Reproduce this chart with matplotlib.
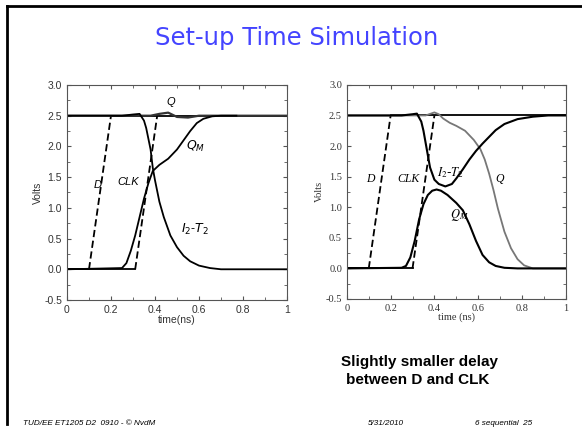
import matplotlib
matplotlib.use('Agg')
import matplotlib.pyplot as plt
from matplotlib.lines import Line2D
from matplotlib.ticker import MultipleLocator

# ---- left simulation (D well before CLK) ----
l_d_t = [0.0, 0.1, 0.2, 1.0]
l_d_v = [0.0, 0.0, 2.5, 2.5]
l_clk_t = [0.0, 0.31, 0.41, 1.0]
l_clk_v = [0.0, 0.0, 2.5, 2.5]
l_i2t2_t = [0.0, 0.25, 0.30, 0.33, 0.35, 0.36, 0.38, 0.39, 0.40, 0.42, 0.44, 0.47,
            0.50, 0.53, 0.56, 0.60, 0.65, 0.70, 0.80, 1.0]
l_i2t2_v = [2.5, 2.5, 2.52, 2.53, 2.42, 2.3, 1.95, 1.65, 1.45, 1.1, 0.85, 0.55,
            0.36, 0.22, 0.13, 0.06, 0.02, 0.0, 0.0, 0.0]
l_qm_t = [0.0, 0.25, 0.27, 0.29, 0.31, 0.33, 0.35, 0.37, 0.39, 0.42, 0.46, 0.50,
          0.53, 0.56, 0.59, 0.62, 0.66, 0.70, 0.77]
l_qm_v = [0.0, 0.02, 0.1, 0.3, 0.55, 0.85, 1.15, 1.4, 1.6, 1.7, 1.8, 1.95,
          2.1, 2.25, 2.38, 2.45, 2.49, 2.5, 2.5]
l_q_t = [0.0, 0.38, 0.42, 0.46, 0.50, 0.55, 0.60, 1.0]
l_q_v = [2.5, 2.5, 2.53, 2.55, 2.48, 2.47, 2.5, 2.5]

# ---- right simulation (slightly smaller delay) ----
r_d_t = [0.0, 0.1, 0.2, 1.0]
r_d_v = [0.0, 0.0, 2.5, 2.5]
r_clk_t = [0.0, 0.30, 0.40, 1.0]
r_clk_v = [0.0, 0.0, 2.5, 2.5]
r_i2t2_t = [0.0, 0.25, 0.30, 0.32, 0.34, 0.35, 0.37, 0.38, 0.40, 0.42, 0.45, 0.48,
            0.50, 0.53, 0.56, 0.59, 0.62, 0.65, 0.68, 0.72, 0.78, 0.85, 0.92, 1.0]
r_i2t2_v = [2.5, 2.5, 2.52, 2.53, 2.4, 2.25, 1.85, 1.65, 1.45, 1.38, 1.34, 1.38,
            1.47, 1.62, 1.78, 1.92, 2.04, 2.15, 2.26, 2.36, 2.44, 2.48, 2.5, 2.5]
r_qm_t = [0.0, 0.25, 0.27, 0.29, 0.31, 0.33, 0.35, 0.37, 0.39, 0.41, 0.43, 0.46,
          0.50, 0.53, 0.56, 0.59, 0.62, 0.65, 0.68, 0.72, 0.78, 1.0]
r_qm_v = [0.0, 0.01, 0.04, 0.18, 0.45, 0.8, 1.05, 1.2, 1.27, 1.29, 1.27, 1.2,
          1.07, 0.95, 0.72, 0.45, 0.22, 0.1, 0.04, 0.01, 0.0, 0.0]
r_q_t = [0.0, 0.36, 0.40, 0.42, 0.44, 0.47, 0.50, 0.54, 0.58, 0.61, 0.63, 0.65,
         0.67, 0.69, 0.72, 0.75, 0.78, 0.81, 0.85, 1.0]
r_q_v = [2.5, 2.5, 2.55, 2.52, 2.45, 2.38, 2.33, 2.25, 2.1, 1.95, 1.78, 1.55,
         1.28, 0.98, 0.6, 0.33, 0.15, 0.05, 0.0, 0.0]

x_ticks = [0, 0.2, 0.4, 0.6, 0.8, 1]
x_ticklabels = ['0', '0.2', '0.4', '0.6', '0.8', '1']
y_ticks = [-0.5, 0.0, 0.5, 1.0, 1.5, 2.0, 2.5, 3.0]

fig = plt.figure(figsize=(5.82, 4.37), dpi=100)
fig.patch.set_facecolor('white')

# slide frame
fig.add_artist(Line2D([0.012, 1.0], [0.986, 0.986], color='black', lw=2.0))
fig.add_artist(Line2D([0.012, 0.012], [0.03, 0.986], color='black', lw=2.0))

fig.text(0.509, 0.897, 'Set-up Time Simulation', color='#4444ff', fontsize=17.5,
         ha='center', va='baseline', family='DejaVu Sans')


def style_axes(ax, fam, xlabel):
    ax.set_xlim(0, 1)
    ax.set_ylim(-0.5, 3.0)
    ax.set_xticks(x_ticks)
    ax.set_xticklabels(x_ticklabels)
    ax.set_yticks(y_ticks)
    ax.set_yticklabels(['%.1f' % v for v in y_ticks])
    ax.xaxis.set_minor_locator(MultipleLocator(0.1))
    ax.yaxis.set_minor_locator(MultipleLocator(0.25))
    ax.tick_params(which='both', direction='in', top=True, right=True,
                   labelsize=7.5, color='#555555')
    ax.tick_params(which='major', length=3)
    ax.tick_params(which='minor', length=2)
    for lab in ax.get_xticklabels() + ax.get_yticklabels():
        lab.set_family(fam)
        lab.set_color('#333333')
    for s in ax.spines.values():
        s.set_color('#555555')
        s.set_linewidth(0.8)
    ax.set_xlabel(xlabel, family=fam, fontsize=7.5, labelpad=0, color='#333333')
    ax.set_ylabel('Volts', family=fam, fontsize=7.5, labelpad=1, color='#333333')


# left
ax1 = fig.add_axes([0.1151, 0.3135, 0.378, 0.492])
ax1.plot(l_d_t[:2], l_d_v[:2], color='black', lw=1.3)
ax1.plot(l_d_t[1:3], l_d_v[1:3], color='black', lw=1.3, ls=(0, (4, 2)))
ax1.plot(l_d_t[2:], l_d_v[2:], color='black', lw=1.3)
ax1.plot(l_clk_t[:2], l_clk_v[:2], color='black', lw=1.3)
ax1.plot(l_clk_t[1:3], l_clk_v[1:3], color='black', lw=1.3, ls=(0, (4, 2)))
ax1.plot(l_q_t, l_q_v, color='#333333', lw=1.6)
ax1.plot(l_i2t2_t, l_i2t2_v, color='black', lw=1.3)
ax1.plot(l_qm_t, l_qm_v, color='black', lw=1.3)
style_axes(ax1, 'Liberation Sans', 'time(ns)')
sans = dict(family='Liberation Sans', fontsize=8, style='italic')
ax1.text(0.45, 2.68, 'Q', **sans)
ax1.text(0.54, 1.95, '$Q_M$', fontsize=9, family='Liberation Sans')
ax1.text(0.23, 1.38, 'CLK', **sans)
ax1.text(0.12, 1.33, 'D', **sans)
ax1.text(0.52, 0.6, '$I_2$-$T_2$', fontsize=9, family='Liberation Sans')

# right
ax2 = fig.add_axes([0.596, 0.3158, 0.376, 0.49])
ax2.plot(r_d_t[:2], r_d_v[:2], color='black', lw=1.3)
ax2.plot(r_d_t[1:3], r_d_v[1:3], color='black', lw=1.3, ls=(0, (4, 2)))
ax2.plot(r_d_t[2:], r_d_v[2:], color='black', lw=1.3)
ax2.plot(r_clk_t[:2], r_clk_v[:2], color='black', lw=1.3)
ax2.plot(r_clk_t[1:3], r_clk_v[1:3], color='black', lw=1.3, ls=(0, (4, 2)))
ax2.plot(r_q_t, r_q_v, color='#777777', lw=1.3)
ax2.plot(r_i2t2_t, r_i2t2_v, color='black', lw=1.5)
ax2.plot(r_qm_t, r_qm_v, color='black', lw=1.5)
style_axes(ax2, 'Liberation Serif', 'time (ns)')
serif = dict(family='Liberation Serif', fontsize=8.5, style='italic')
ax2.text(0.09, 1.42, 'D', **serif)
ax2.text(0.23, 1.42, 'CLK', **serif)
ax2.text(0.41, 1.5, '$I_2$-$T_2$', fontsize=9, math_fontfamily='stix')
ax2.text(0.68, 1.42, 'Q', **serif)
ax2.text(0.47, 0.82, '$Q_M$', fontsize=9, math_fontfamily='stix')

note = dict(ha='center', va='baseline', fontsize=11, fontweight='bold',
            family='Liberation Sans')
fig.text(0.72, 0.163, 'Slightly smaller delay', **note)
fig.text(0.717, 0.121, 'between D and CLK', **note)

foot = dict(fontsize=5.9, style='italic', family='Liberation Sans', va='center')
fig.text(0.04, 0.032, 'TUD/EE ET1205 D2  0910 - \u00a9 NvdM', **foot)
fig.text(0.632, 0.032, '5/31/2010', **foot)
fig.text(0.816, 0.032, '6 sequential  25', **foot)

fig.savefig('out.png', dpi=100)
